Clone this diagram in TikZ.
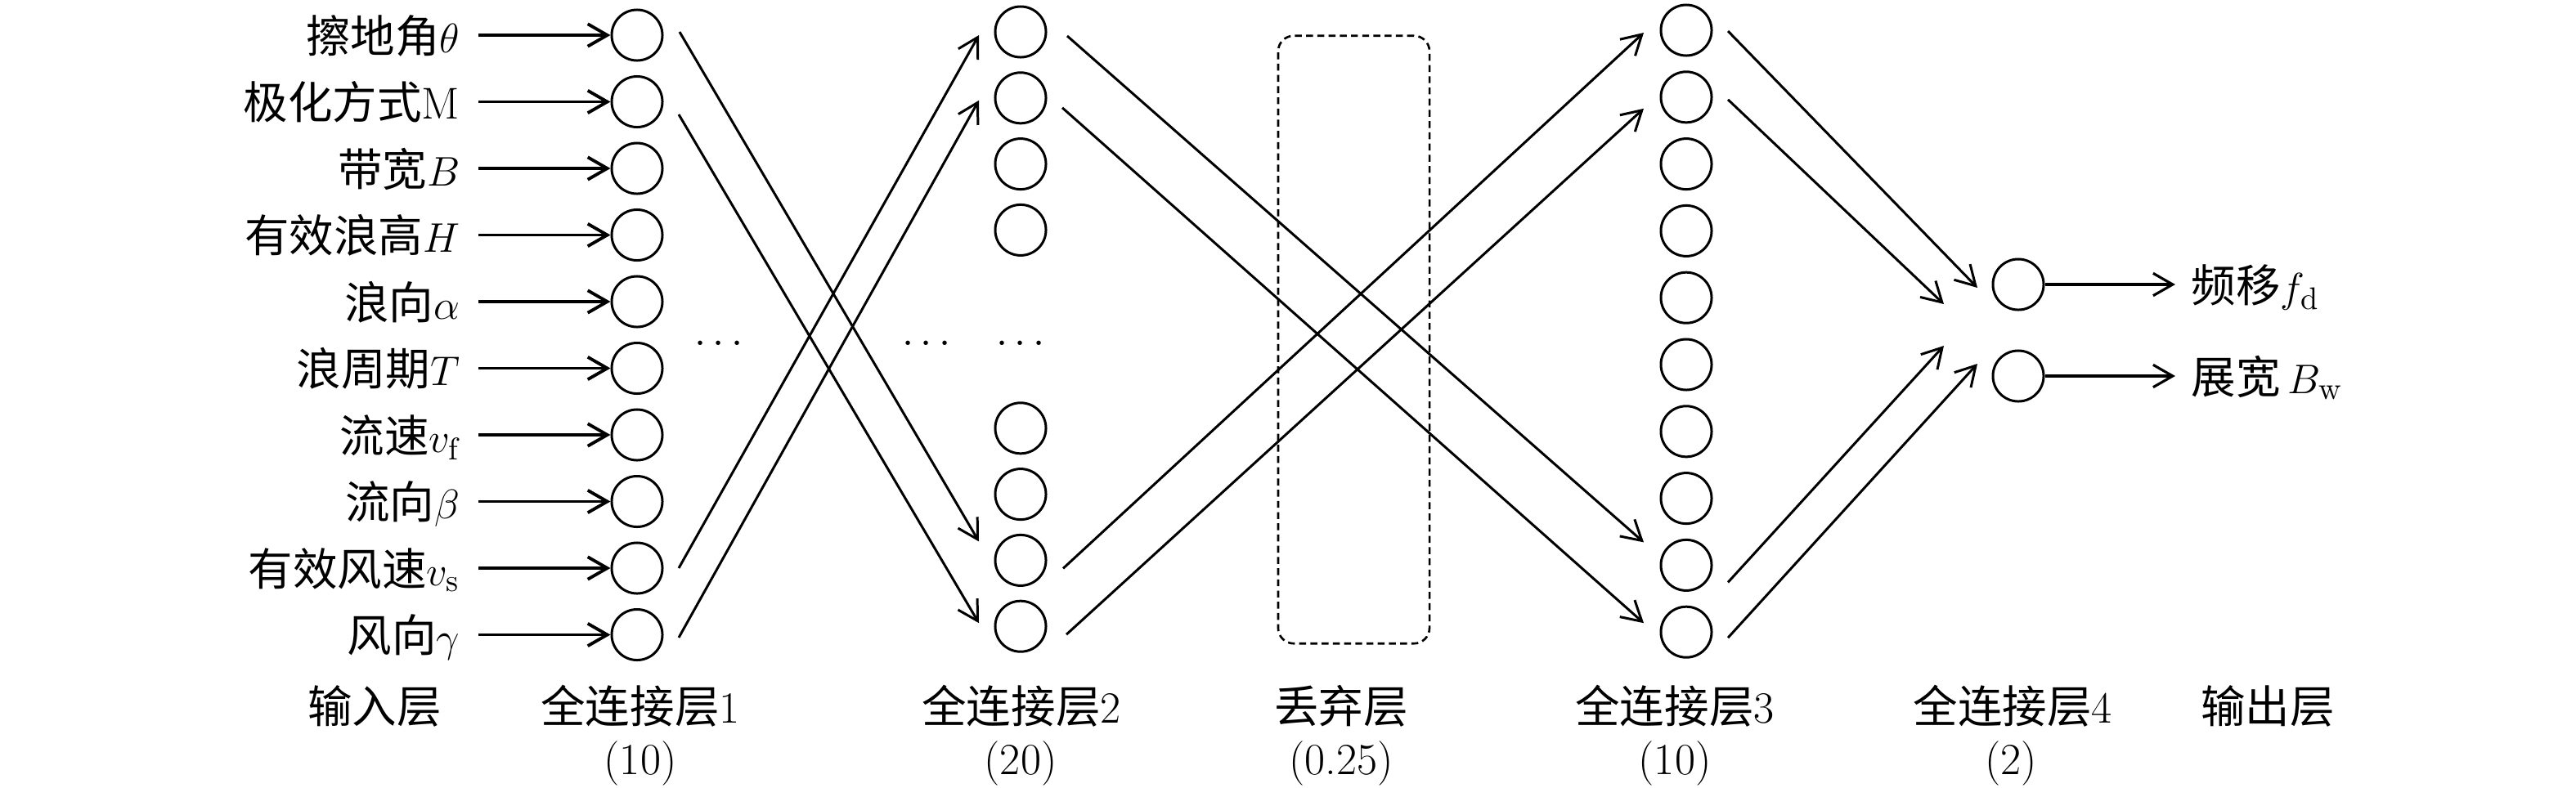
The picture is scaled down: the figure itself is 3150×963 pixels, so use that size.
\documentclass[tikz,border=0pt]{standalone}
\usepackage{fontspec}
\newfontfamily\cjk{Noto Sans CJK SC}
\usetikzlibrary{arrows.meta}
\newcommand{\lmr}[1]{{\rmfamily #1}}
\begin{document}
\begin{tikzpicture}[x=0.01cm,y=-0.01cm,
  neuron/.style={circle,draw,line width=0.85pt,minimum size=0.62cm,inner sep=0pt},
  lbl/.style={font=\cjk\fontsize{15.5pt}{18pt}\selectfont,inner sep=0pt},
  dotlbl/.style={font=\fontsize{15.5pt}{18pt}\selectfont,inner sep=0pt,anchor=base},
  tip/.style={-{Straight Barb[length=6.8pt,width=7.8pt]}},
  inarrow/.style={tip,line width=1.1pt,shorten <=0.22cm},
  conn/.style={tip,line width=0.85pt},
  outarrow/.style={tip,line width=0.9pt,shorten >=0.19cm},
  dropbox/.style={draw,line width=0.75pt,dash pattern=on 2.4pt off 1.5pt,rounded corners=0.19cm,minimum width=1.85cm,minimum height=7.43cm,inner sep=0pt}]
\useasboundingbox (0,0) rectangle (3150,963);

% input layer labels and layer 1
\foreach \k/\t in {0/{擦地角$\theta$},1/{极化方式$\mathrm{M}$},2/{带宽$B$},3/{有效浪高$H$},4/{浪向$\alpha$},5/{浪周期$T$},6/{流速$v_{\mathrm{f}}$},7/{流向$\beta$},8/{有效风速$v_{\mathrm{s}}$},9/{风向$\gamma$}}{
  \node[neuron] (l1-\k) at (779,{43+81.5*\k}) {};
  \node[lbl,anchor=base east] (in\k) at (563,{43+81.5*\k+21}) {\t};
  \draw[inarrow] (in\k.east |- l1-\k.west) -- (l1-\k.west);
}

% layer 2
\foreach \k in {0,1,2,3,6,7,8,9}{
  \node[neuron] (l2-\k) at (1248,{39+80.8*\k}) {};
}
% layer 3
\foreach \k in {0,...,9}{
  \node[neuron] (l3-\k) at (2062,{37+81.8*\k}) {};
}
% layer 4
\node[neuron] (l4-0) at (2468,348) {};
\node[neuron] (l4-1) at (2468,460) {};

% dots
\node[dotlbl] (d1) at (879,432) {$\cdots$};
\node[dotlbl] (d2) at (1133,432) {$\cdots$};
\node[dotlbl] (d3) at (1248,432) {$\cdots$};

% dropout box
\node[dropbox] (drop) at (1655.5,415.5) {};

% connectors layer 1 -> 2
\draw[conn] ([shift={(52,-4)}]l1-0.center) -- ([shift={(-51,-23)}]l2-8.center);
\draw[conn] ([shift={(51,15.5)}]l1-1.center) -- ([shift={(-51,-4)}]l2-9.center);
\draw[conn] ([shift={(51,0)}]l1-8.center) -- ([shift={(-51,4)}]l2-0.center);
\draw[conn] ([shift={(51,3.5)}]l1-9.center) -- ([shift={(-51,3)}]l2-1.center);
% layer 2 -> 3
\draw[conn] ([shift={(57,5)}]l2-0.center) -- ([shift={(-52,-28)}]l3-8.center);
\draw[conn] ([shift={(51,12)}]l2-1.center) -- ([shift={(-52,-11)}]l3-9.center);
\draw[conn] ([shift={(52,10)}]l2-8.center) -- ([shift={(-52,3)}]l3-0.center);
\draw[conn] ([shift={(56,10)}]l2-9.center) -- ([shift={(-52,14)}]l3-1.center);
% layer 3 -> 4
\draw[conn] ([shift={(51,1)}]l3-0.center) -- ([shift={(-50,4)}]l4-0.center);
\draw[conn] ([shift={(51,3)}]l3-1.center) -- ([shift={(-91,24)}]l4-0.center);
\draw[conn] ([shift={(51,21)}]l3-8.center) -- ([shift={(-91,-37)}]l4-1.center);
\draw[conn] ([shift={(51,7)}]l3-9.center) -- ([shift={(-50,-15)}]l4-1.center);

% outputs
\node[lbl,anchor=base west] (o0) at (2679,369) {频移$f_{\mathrm{d}}$};
\node[lbl,anchor=base west] (o1) at (2679,481) {展宽\,$B_{\mathrm{w}}$};
\draw[outarrow] (l4-0.east) -- (o0.west |- l4-0.east);
\draw[outarrow] (l4-1.east) -- (o1.west |- l4-1.east);

% bottom labels
\node[lbl,anchor=base] (t0) at (458,884) {输入层};
\node[lbl,anchor=base] (t1) at (783,884) {全连接层\lmr{1}};
\node[lbl,anchor=base] (c1) at (783,947) {\lmr{(10)}};
\node[lbl,anchor=base] (t2) at (1249,884) {全连接层\lmr{2}};
\node[lbl,anchor=base] (c2) at (1248,947) {\lmr{(20)}};
\node[lbl,anchor=base] (t3) at (1640,884) {丢弃层};
\node[lbl,anchor=base] (c3) at (1640,947) {\lmr{(0.25)}};
\node[lbl,anchor=base] (t4) at (2048,884) {全连接层\lmr{3}};
\node[lbl,anchor=base] (c4) at (2048,947) {\lmr{(10)}};
\node[lbl,anchor=base] (t5) at (2461,884) {全连接层\lmr{4}};
\node[lbl,anchor=base] (c5) at (2459,947) {\lmr{(2)}};
\node[lbl,anchor=base] (t6) at (2773,884) {输出层};
\end{tikzpicture}
\end{document}
